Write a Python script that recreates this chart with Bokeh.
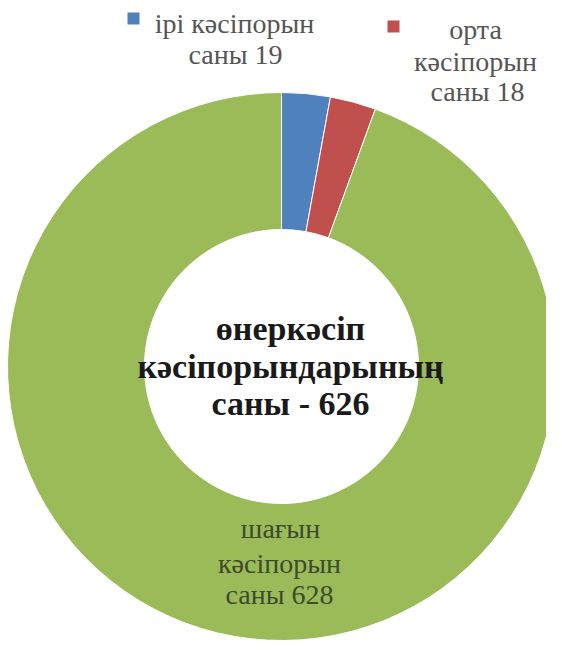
import numpy as np
from bokeh.plotting import figure
from bokeh.models import Range1d
from bokeh.core.properties import value
from bokeh.embed import file_html
from bokeh.resources import INLINE

# ---- data ----
categories = ["ірі кәсіпорын", "орта кәсіпорын", "шағын кәсіпорын"]
counts = [19, 18, 628]
colors = ["#4F81BD", "#C0504D", "#9BBB59"]
center_title = ["өнеркәсіп", "кәсіпорындарының", "саны - 626"]

# ---- figure (1 data unit = 1 px, y measured upward) ----
W, H = 546, 640
PAGE_H = 656
p = figure(width=W, height=H, x_range=Range1d(8, 8 + W), y_range=Range1d(PAGE_H - 8 - H, PAGE_H - 8),
           output_backend="svg", toolbar_location=None, min_border=0)
p.axis.visible = False
p.grid.visible = False
p.outline_line_color = None
p.background_fill_color = "white"
p.border_fill_color = "white"

def Y(y_img):
    return PAGE_H - y_img

cx, cy = 289, Y(374)
total = float(sum(counts))
cum = np.concatenate([[0.0], np.cumsum(counts) / total])
start_angles = np.pi / 2 - 2 * np.pi * cum[1:]
end_angles = np.pi / 2 - 2 * np.pi * cum[:-1]

p.annular_wedge(x=cx, y=cy, inner_radius=137, outer_radius=274,
                start_angle=list(start_angles), end_angle=list(end_angles),
                fill_color=colors, line_color="white", line_width=1)

serif = value("Liberation Serif")

# center title
p.text(x=[cx + 9] * 3, y=[Y(336), Y(374), Y(411)], text=center_title,
       text_font=serif, text_font_style="bold", text_font_size="34px",
       text_align="center", text_baseline="middle", text_color="#1a1a1a")

# data labels
w0 = categories[0].split()
w1 = categories[1].split()
w2 = categories[2].split()
blue_lines = [" ".join(w0), f"саны {counts[0]}"]
red_lines = [w1[0], w1[1], f"саны {counts[1]}"]
green_lines = [w2[0], w2[1], f"саны {counts[2]}"]

label_font = "28px"
p.text(x=[242, 243], y=[Y(31), Y(62)], text=blue_lines, text_font=serif,
       text_font_size=label_font, text_align="center", text_baseline="middle", text_color="#555555")
p.text(x=[483, 483, 485], y=[Y(37), Y(69), Y(99)], text=red_lines, text_font=serif,
       text_font_size=label_font, text_align="center", text_baseline="middle", text_color="#555555")
p.text(x=[288, 287, 287], y=[Y(536), Y(571), Y(602)], text=green_lines, text_font=serif,
       text_font_size=label_font, text_align="center", text_baseline="middle", text_color="#3d4a2c")

# legend keys
p.scatter(x=[141, 401], y=[Y(26), Y(34)], marker="square", size=12,
          fill_color=colors[:2], line_color=None)

open("out.html", "w").write(file_html(p, INLINE))
